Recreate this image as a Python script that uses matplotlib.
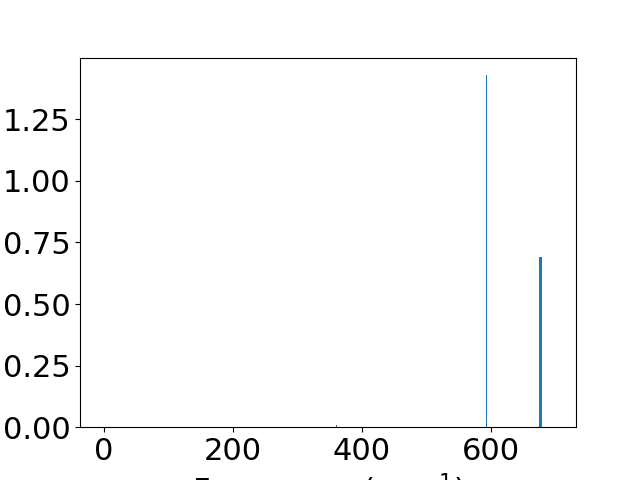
import matplotlib
matplotlib.use('Agg')
import matplotlib.pyplot as plt

# frequencies (cm^-1) and intensities
freqs = [360, 593, 677]
intens = [0.008, 1.429, 0.69]
widths = [1.5, 1.5, 4.0]

plt.rcParams.update({'font.size': 22})
fig = plt.figure(figsize=(6.4, 4.8), dpi=100)
ax = fig.add_subplot(111)
ax.bar(freqs, intens, width=widths, color='#1f77b4')
ax.set_xlim(-37, 732)
ax.set_ylim(0, 1.5)
ax.set_xticks([0, 200, 400, 600])
ax.set_yticks([0.0, 0.25, 0.5, 0.75, 1.0, 1.25])
ax.set_xlabel('Frequency (cm$^{-1}$)')
fig.savefig('out.png')
